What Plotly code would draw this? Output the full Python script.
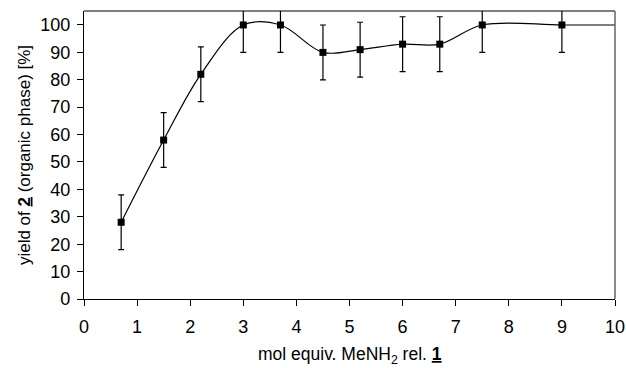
import plotly.graph_objects as go

equiv = [0.7, 1.5, 2.2, 3.0, 3.7, 4.5, 5.2, 6.0, 6.7, 7.5, 9.0]
yield_pct = [28, 58, 82, 100, 100, 90, 91, 93, 93, 100, 100]
err = [10, 10, 10, 10, 10, 10, 10, 10, 10, 10, 10]
curve_x = equiv + [10.1]
curve_y = yield_pct + [100]

fig = go.Figure()
fig.add_trace(go.Scatter(
    x=curve_x, y=curve_y, mode="lines",
    line=dict(color="black", width=1.2, shape="spline", smoothing=1.0),
    hoverinfo="skip", showlegend=False, cliponaxis=False,
))
fig.add_trace(go.Scatter(
    x=equiv, y=yield_pct, mode="markers",
    marker=dict(symbol="square", size=7, color="black"),
    error_y=dict(type="data", array=err, visible=True, color="black", thickness=1.2, width=3),
    showlegend=False, cliponaxis=False,
))

font = "Liberation Sans, Arial, sans-serif"
fig.update_layout(
    width=626, height=368,
    margin=dict(l=84, r=11, t=11, b=69, autoexpand=False),
    plot_bgcolor="white", paper_bgcolor="white",
    font=dict(family=font, color="black", size=17),
    xaxis=dict(
        range=[0, 10], tickvals=list(range(0, 11)), showgrid=False, zeroline=False,
        showline=True, linecolor="black", linewidth=1.2, automargin=False,
        ticks="outside", ticklen=6, tickcolor="black", tickwidth=1,
        tickfont=dict(size=18), ticklabelstandoff=5,
    ),
    yaxis=dict(
        range=[0, 105.1], tickvals=list(range(0, 101, 10)), showgrid=False, zeroline=False,
        showline=True, linecolor="black", linewidth=1.2, automargin=False,
        ticks="outside", ticklen=6, tickcolor="black", tickwidth=1,
        tickfont=dict(size=18), ticklabelstandoff=3,
        title=dict(text="yield of <u><b>2</b></u> (organic phase) [%]", font=dict(size=17), standoff=5),
    ),
    annotations=[
        dict(text="mol equiv. MeNH<sub>2</sub> rel. <u><b>1</b></u>", xref="paper", yref="paper",
             x=0.5, y=-56 / 288, xanchor="center", yanchor="middle", showarrow=False,
             font=dict(size=17.5)),
    ],
    shapes=[
        dict(type="line", xref="paper", yref="paper", x0=0, x1=1, y0=1, y1=1,
             line=dict(color="black", width=1.2)),
        dict(type="line", xref="paper", yref="paper", x0=1, x1=1, y0=0, y1=1,
             line=dict(color="#666666", width=1.5)),
    ],
)

fig.write_html("out.html")
